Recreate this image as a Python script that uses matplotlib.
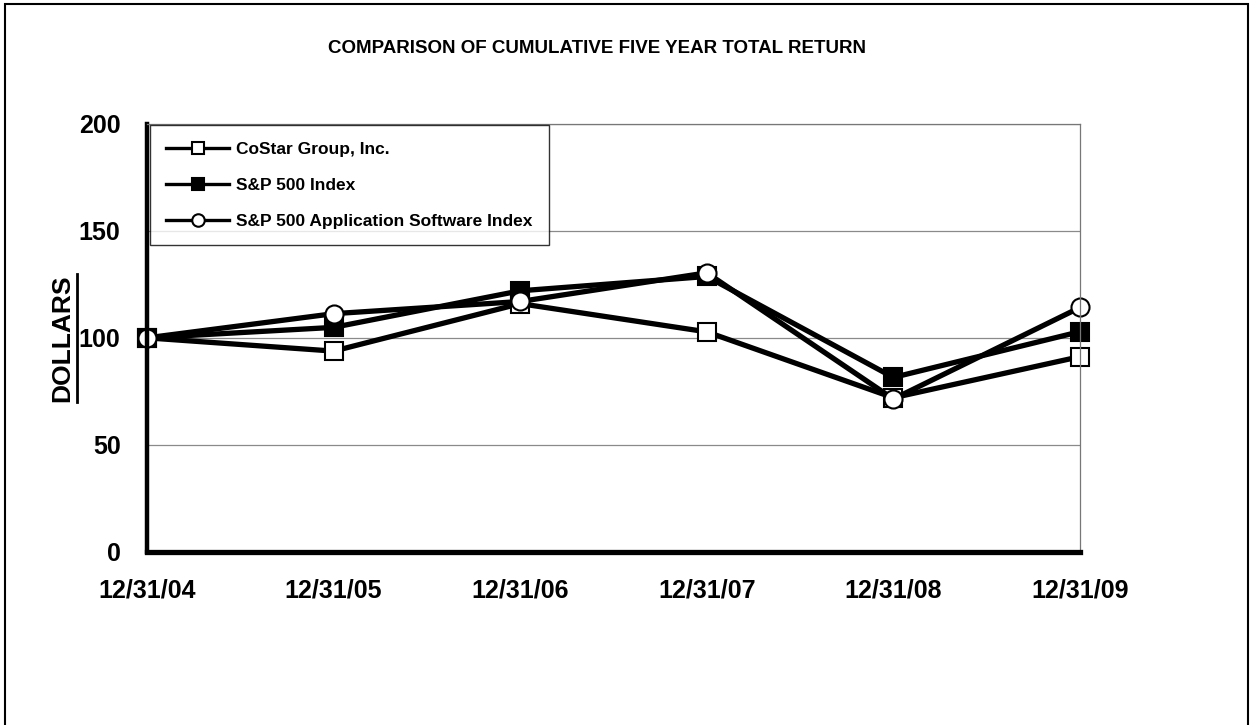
import matplotlib
matplotlib.use("Agg")
import matplotlib.pyplot as plt
from matplotlib.lines import Line2D
from matplotlib.patches import Rectangle

plt.rcParams['font.family'] = ['Liberation Sans', 'DejaVu Sans']

dates = ["12/31/04", "12/31/05", "12/31/06", "12/31/07", "12/31/08", "12/31/09"]
costar = [100, 93.8, 116, 102.8, 72, 91.2]
sp500 = [100, 104.9, 122, 128.7, 81.5, 102.9]
app_software = [100, 111.3, 117, 130.4, 71.4, 114.2]
yticks = [0, 50, 100, 150, 200]

fig = plt.figure(figsize=(12.5, 7.25), dpi=100)
ax = fig.add_axes([0.1176, 0.239, 0.7464, 0.590])

x = list(range(len(dates)))
style = dict(color="black", lw=3.8, markeredgewidth=1.5,
             markeredgecolor="black", clip_on=False)
ax.plot(x, costar, marker="s", markerfacecolor="white", markersize=12.5,
        label="CoStar Group, Inc.", **style)
ax.plot(x, sp500, marker="s", markerfacecolor="black", markersize=12.5,
        label="S&P 500 Index", **style)
ax.plot(x, app_software, marker="o", markerfacecolor="white", markersize=13,
        label="S&P 500 Application Software Index", **style)

ax.set_xlim(0, 5)
ax.set_ylim(0, 200)
ax.set_xticks(x)
ax.set_xticklabels(dates)
ax.set_yticks(yticks)
ax.tick_params(axis="both", length=0, labelsize=18)
ax.tick_params(axis="x", pad=19)
ax.tick_params(axis="y", pad=19)
for lab in ax.get_xticklabels() + ax.get_yticklabels():
    lab.set_fontweight("bold")

ax.yaxis.grid(True, color="#8a8a8a", lw=0.9)
ax.set_axisbelow(True)
ax.spines["left"].set_linewidth(3.2)
ax.spines["bottom"].set_linewidth(3.8)
ax.spines["right"].set_linewidth(0.9)
ax.spines["right"].set_color("#777777")
ax.spines["top"].set_linewidth(0.9)
ax.spines["top"].set_color("#777777")

ylab = ax.set_ylabel("DOLLARS", fontsize=19, fontweight="bold", labelpad=3)

leg = ax.legend(loc="upper left", bbox_to_anchor=(0.003, 0.997), frameon=True,
                fancybox=False, edgecolor="black", handlelength=3.6,
                prop={"weight": "bold", "size": 12.5}, labelspacing=1.2,
                borderpad=0.95, handletextpad=0.4, borderaxespad=0)
leg.get_frame().set_linewidth(1.0)
for h in leg.legend_handles:
    h.set_linewidth(2.4)
    h.set_markersize(9)

fig.text(0.478, 0.933, "COMPARISON OF CUMULATIVE FIVE YEAR TOTAL RETURN",
         ha="center", va="center", fontsize=13.5, fontweight="bold")

# outer frame
fig.patches.append(Rectangle((0.004, -0.01), 0.994, 1.005, transform=fig.transFigure,
                             fill=False, edgecolor="black", lw=1.5))

# underline the y label
fig.canvas.draw()
bb = ylab.get_window_extent().transformed(fig.transFigure.inverted())
fig.lines.append(Line2D([bb.x1 + 0.002, bb.x1 + 0.002], [bb.y0, bb.y1],
                        transform=fig.transFigure, color="black", lw=2))

fig.savefig("out.png", dpi=100)
